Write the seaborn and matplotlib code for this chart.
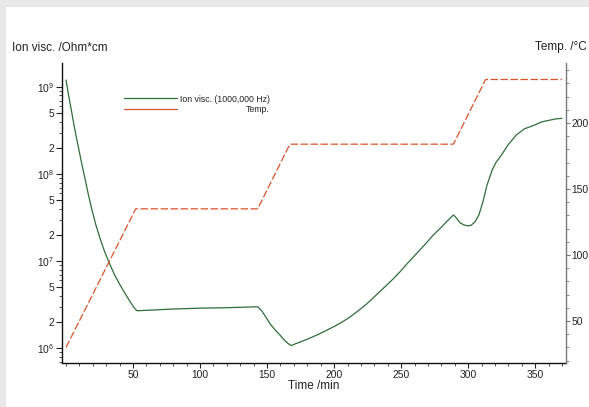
import numpy as np
import pandas as pd
import matplotlib
matplotlib.use("Agg")
import matplotlib.pyplot as plt
import seaborn as sns
from matplotlib.patches import Rectangle
from matplotlib.lines import Line2D
from matplotlib.ticker import FixedLocator, FixedFormatter, MultipleLocator

# ---------------- data ----------------
temp_time = [0, 52, 143, 167, 289, 313, 370]
temp_vals = [30, 135, 135, 184, 184, 233, 233]

visc_time = [0, 2, 4, 6, 8, 10, 12, 14, 16.6, 19, 22, 25.4, 29, 32.8, 36, 39.8, 44, 48, 51, 53,
             60, 80, 100, 120, 140, 143, 146, 149, 152.2, 156, 159.7, 163, 166, 168, 171, 174.6,
             181, 187, 193, 199.5, 206, 212, 218, 224.4, 230, 236.8, 243, 249.3, 255, 261.7, 268,
             274, 280, 285, 289, 291, 294, 297, 300, 302, 305, 308, 311, 314, 318, 321, 324, 330,
             336, 342, 349, 355, 361, 366, 370]
visc_log10 = [9.08, 8.90, 8.73, 8.56, 8.40, 8.25, 8.10, 7.96, 7.77, 7.61, 7.43, 7.26, 7.10, 6.96,
              6.85, 6.74, 6.63, 6.53, 6.46, 6.43,
              6.435, 6.45, 6.46, 6.465, 6.475, 6.475, 6.43, 6.36, 6.28, 6.21, 6.15, 6.09, 6.05,
              6.03, 6.05, 6.07,
              6.11, 6.15, 6.195, 6.245, 6.30, 6.36, 6.43, 6.51, 6.59, 6.69, 6.78, 6.88, 6.98, 7.09,
              7.195, 7.30, 7.39, 7.47, 7.53, 7.50, 7.44, 7.415, 7.405, 7.41, 7.45, 7.53, 7.68,
              7.87, 8.05, 8.14, 8.20, 8.34, 8.45, 8.52, 8.56, 8.60, 8.62, 8.635, 8.64]

left_tick_vals = [1e6, 2e6, 5e6, 1e7, 2e7, 5e7, 1e8, 2e8, 5e8, 1e9]
left_tick_labels = [r"$\mathregular{10^6}$", "2", "5", r"$\mathregular{10^7}$", "2", "5",
                    r"$\mathregular{10^8}$", "2", "5", r"$\mathregular{10^9}$"]
right_tick_vals = [50, 100, 150, 200]
x_tick_vals = [50, 100, 150, 200, 250, 300, 350]

legend_labels = ["Ion visc. (1000,000 Hz)", "Temp."]
left_title = "Ion visc. /Ohm*cm"
right_title = "Temp. /°C"
x_title = "Time /min"

# ---------------- style ----------------
sns.set_style("ticks")
plt.rcParams["font.family"] = ["Liberation Sans", "DejaVu Sans"]
plt.rcParams["mathtext.fontset"] = "custom"
plt.rcParams["mathtext.rm"] = "Liberation Sans"
plt.rcParams["mathtext.it"] = "Liberation Sans"

GREEN = "#2f6e38"
ORANGE = "#d9542a"
TICK_FS = 7.4
TITLE_FS = 8.5
TXT = "#222222"

W, H = 589, 407
fig = plt.figure(figsize=(W / 100, H / 100), dpi=100)
fig.patch.set_facecolor("#e8e8e8")
bg = Rectangle((6 / W, 0), 1 - 6 / W, 1 - 7 / H, transform=fig.transFigure,
               facecolor="white", edgecolor="none", zorder=-10)
fig.patches.append(bg)

L, R, T, B = 62, 566, 63, 363
ax = fig.add_axes([L / W, 1 - B / H, (R - L) / W, (B - T) / H])
ax.set_facecolor("none")
ax2 = ax.twinx()
ax2.set_facecolor("none")

visc_df = pd.DataFrame({"t": visc_time, "v": np.power(10.0, visc_log10)})
temp_df = pd.DataFrame({"t": temp_time, "T": temp_vals})

sns.lineplot(data=visc_df, x="t", y="v", ax=ax, color=GREEN, lw=0.9, sort=False)
sns.lineplot(data=temp_df, x="t", y="T", ax=ax2, color=ORANGE, lw=0.9, sort=False)
ax2.lines[0].set_dashes((6, 2))

ax.set_yscale("log")
ax.set_ylim(10 ** 5.83, 10 ** 9.276)
ax.set_xlim(-3, 373)
ax2.set_ylim(18.2, 245.5)

# left axis ticks
ax.yaxis.set_major_locator(FixedLocator(left_tick_vals))
ax.yaxis.set_major_formatter(FixedFormatter(left_tick_labels))
minor = [m * 10 ** e for e in range(5, 10) for m in range(2, 10)]
ax.yaxis.set_minor_locator(FixedLocator(minor))
ax.tick_params(axis="y", which="major", length=4, width=0.8, labelsize=TICK_FS, pad=1.5, colors=TXT)
ax.tick_params(axis="y", which="minor", length=2.5, width=0.6, colors="#333333")

# x axis ticks
ax.xaxis.set_major_locator(FixedLocator(x_tick_vals))
ax.xaxis.set_minor_locator(MultipleLocator(10))
ax.tick_params(axis="x", which="major", length=3.5, width=0.8, labelsize=TICK_FS, pad=1.5, colors=TXT)
ax.tick_params(axis="x", which="minor", length=2.5, width=0.6, colors="#333333")

# right axis
ax2.yaxis.set_major_locator(FixedLocator(right_tick_vals))
ax2.yaxis.set_minor_locator(MultipleLocator(10))
ax2.tick_params(axis="y", which="major", length=3, width=0.8, labelsize=TICK_FS, pad=1,
                color="#777777", labelcolor=TXT)
ax2.tick_params(axis="y", which="minor", length=2.5, width=0.6, color="#777777")

for a in (ax, ax2):
    a.set_xlabel("")
    a.set_ylabel("")
    a.spines["top"].set_visible(False)
ax.spines["right"].set_visible(False)
ax2.spines["left"].set_visible(False)
ax2.spines["bottom"].set_visible(False)
ax2.spines["right"].set_visible(True)
ax2.spines["right"].set_color("#777777")
ax2.spines["right"].set_linewidth(1.0)
ax.spines["left"].set_color("#111111")
ax.spines["bottom"].set_color("#111111")
ax.spines["left"].set_linewidth(1.0)
ax.spines["bottom"].set_linewidth(1.0)

ax.set_xlabel(x_title, fontsize=TITLE_FS, labelpad=0, color=TXT)

fig.text(12 / W, 1 - 48 / H, left_title, fontsize=TITLE_FS, ha="left", va="center", color=TXT)
fig.text(587 / W, 1 - 47 / H, right_title, fontsize=TITLE_FS, ha="right", va="center", color=TXT)

handles = [Line2D([], [], color=GREEN, lw=0.9), Line2D([], [], color=ORANGE, lw=0.9)]
leg = ax.legend(handles, legend_labels, loc="upper left",
                bbox_to_anchor=((124 - L) / (R - L), (B - 94.5) / (B - T)),
                frameon=False, fontsize=6.3, handlelength=6.0, handletextpad=0.35,
                borderpad=0, borderaxespad=0, labelspacing=0.2)
texts = leg.get_texts()
for t in texts:
    t.set_color(TXT)

# right-align the second legend label under the first, as in the reference
fig.canvas.draw()
r = fig.canvas.get_renderer()
w0 = texts[0].get_window_extent(r).width
w1 = texts[1].get_window_extent(r).width
texts[1].set_x(w0 - w1)

fig.savefig("out.png", dpi=100, facecolor=fig.get_facecolor())
